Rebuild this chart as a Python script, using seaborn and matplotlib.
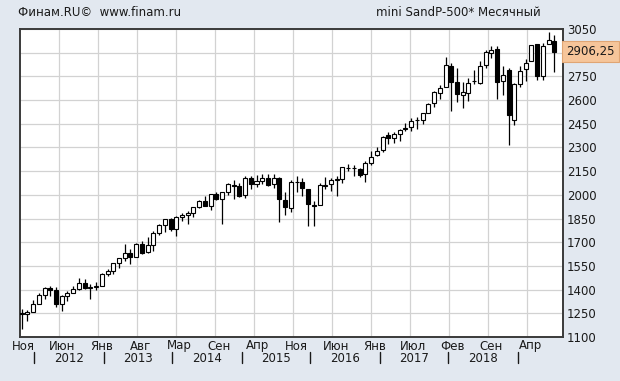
import numpy as np
import pandas as pd
import matplotlib
matplotlib.use("Agg")
import matplotlib.pyplot as plt
import matplotlib.transforms as mtransforms
import seaborn as sns

# ---------------- data (monthly, Nov 2011 .. Aug 2019) ----------------
opens = [1251, 1246,
         1258, 1312, 1366, 1408, 1398, 1310, 1362, 1379, 1407, 1441, 1412, 1416,
         1426, 1498, 1515, 1569, 1597, 1631, 1609, 1690, 1636, 1682, 1758, 1806,
         1845, 1782, 1857, 1873, 1884, 1924, 1962, 1929, 2004, 1972, 2018, 2065,
         2059, 1996, 2105, 2067, 2086, 2108, 2067, 2104, 1970, 1919, 2080, 2082,
         2038, 1937, 1937, 2057, 2067, 2093, 2099, 2173, 2171, 2164, 2129, 2201,
         2251, 2285, 2381, 2363, 2388, 2415, 2431, 2477, 2474, 2521, 2583, 2645,
         2683, 2816, 2715, 2633, 2643, 2718, 2705, 2821, 2896, 2926, 2718, 2790,
         2476, 2702, 2798, 2848, 2952, 2751, 2953, 2976]
highs = [1277, 1269,
         1333, 1378, 1419, 1422, 1415, 1364, 1392, 1426, 1475, 1470, 1434, 1448,
         1504, 1530, 1570, 1597, 1687, 1654, 1698, 1709, 1730, 1771, 1814, 1849,
         1851, 1867, 1884, 1897, 1924, 1968, 1992, 2005, 2019, 2018, 2075, 2093,
         2072, 2120, 2117, 2126, 2135, 2130, 2133, 2113, 2021, 2094, 2117, 2104,
         2038, 1963, 2073, 2111, 2104, 2121, 2178, 2194, 2188, 2169, 2214, 2278,
         2301, 2371, 2401, 2398, 2418, 2454, 2484, 2491, 2519, 2582, 2657, 2694,
         2873, 2835, 2801, 2717, 2742, 2791, 2848, 2916, 2940, 2940, 2815, 2800,
         2708, 2813, 2860, 2949, 2955, 2964, 3029, 3014]
lows = [1152, 1202,
        1258, 1312, 1341, 1357, 1291, 1267, 1325, 1378, 1397, 1403, 1343, 1398,
        1426, 1485, 1501, 1536, 1581, 1560, 1604, 1627, 1633, 1646, 1746, 1767,
        1770, 1737, 1834, 1815, 1859, 1915, 1930, 1905, 1965, 1814, 2001, 1972,
        1988, 1981, 2039, 2048, 2068, 2057, 2045, 1831, 1872, 1894, 2020, 1993,
        1802, 1802, 1937, 2034, 2025, 1992, 2075, 2148, 2120, 2114, 2084, 2188,
        2245, 2271, 2322, 2329, 2344, 2405, 2407, 2417, 2446, 2520, 2557, 2605,
        2682, 2529, 2586, 2553, 2594, 2699, 2699, 2802, 2864, 2604, 2631, 2316,
        2444, 2681, 2722, 2848, 2728, 2729, 2953, 2778]
closes = [1247, 1258,
          1312, 1366, 1408, 1398, 1310, 1362, 1379, 1407, 1441, 1412, 1416, 1426,
          1498, 1515, 1569, 1598, 1631, 1606, 1686, 1633, 1682, 1757, 1806, 1848,
          1783, 1859, 1872, 1884, 1924, 1960, 1931, 2003, 1972, 2018, 2068, 2059,
          1995, 2105, 2068, 2086, 2107, 2063, 2104, 1972, 1920, 2079, 2080, 2044,
          1940, 1932, 2060, 2065, 2097, 2099, 2174, 2171, 2168, 2126, 2199, 2239,
          2279, 2364, 2363, 2384, 2412, 2423, 2470, 2472, 2519, 2575, 2648, 2674,
          2824, 2714, 2641, 2648, 2705, 2718, 2816, 2902, 2914, 2712, 2760, 2507,
          2704, 2784, 2834, 2946, 2752, 2942, 2980, 2906.25]

month_labels = ["Ноя", "Июн", "Янв", "Авг", "Мар", "Сен", "Апр",
                "Ноя", "Июн", "Янв", "Июл", "Фев", "Сен", "Апр"]
month_grid_pos = [-0.3, 6.5, 13.3, 20.1, 27.0, 33.8, 40.6,
                  47.4, 54.2, 61.0, 67.8, 74.6, 81.4, 88.2]
year_labels = ["2012", "2013", "2014", "2015", "2016", "2017", "2018"]
year_sep_pos = [2.2, 14.3, 26.3, 38.4, 50.4, 62.5, 74.5, 86.6]
y_ticks = [1100, 1250, 1400, 1550, 1700, 1850, 2000, 2150, 2300, 2450,
           2600, 2750, 2900, 3050]
last_price = 2906.25
last_label = "2906,25"
title_left = "Финам.RU©  www.finam.ru"
title_right = "mini SandP-500* Месячный"

df = pd.DataFrame({"open": opens, "high": highs, "low": lows, "close": closes})
df["x"] = np.arange(len(df))
df["up"] = df["close"] >= df["open"]

# ---------------- style ----------------
sns.set_style("white")
plt.rcParams["font.family"] = ["DejaVu Sans"]
BG = "#E2E8F0"
TXT = "#1a1a1a"

fig = plt.figure(figsize=(6.2, 3.81), dpi=100, facecolor=BG)
W, H = 620, 381
L, R, T, B = 19.9, 563, 29, 337
ax = fig.add_axes([L / W, 1 - B / H, (R - L) / W, (B - T) / H])
ax.set_facecolor("white")

ax.set_xlim(-0.3, 94.5)
ax.set_ylim(1100, 3050)

# grid
for yv in y_ticks:
    ax.axhline(yv, color="#d2d2d2", lw=0.9, zorder=0)
for xv in month_grid_pos[1:]:
    ax.axvline(xv, color="#d2d2d2", lw=0.9, zorder=0)

# candles
sns.despine(ax=ax, top=False, right=False, left=False, bottom=False)
ax.vlines(df["x"], df["low"], df["high"], color="black", lw=0.9, zorder=2)
body_bottom = np.minimum(df["open"], df["close"])
body_h = np.abs(df["close"] - df["open"]).clip(lower=2)
colors = np.where(df["up"], "white", "black")
ax.bar(df["x"], body_h, bottom=body_bottom, width=0.7, color=colors,
       edgecolor="black", linewidth=0.8, zorder=3)

for s in ax.spines.values():
    s.set_color("#3a3a3a")
    s.set_linewidth(1.4)

# y axis on the right
ax.set_yticks(y_ticks)
ax.yaxis.tick_right()
ax.set_yticklabels([("" if v == 2900 else str(v)) for v in y_ticks])
ax.tick_params(axis="y", length=0, pad=3, labelsize=8.5, labelcolor=TXT)
ax.set_xticks([])

# last price box
ax.plot([1.0, 1.008], [last_price, last_price],
        transform=mtransforms.blended_transform_factory(ax.transAxes, ax.transData),
        color="#3a3a3a", lw=1, clip_on=False)
trans_y = mtransforms.blended_transform_factory(fig.transFigure, ax.transData)
fig.text(566 / W, last_price, last_label, transform=trans_y, fontsize=8.5, color=TXT,
         va="center", ha="left",
         bbox=dict(boxstyle="square,pad=0.35", fc="#F6C59A", ec="#E0A574", lw=0.8))

# x labels
trans_x = mtransforms.blended_transform_factory(ax.transData, fig.transFigure)
for lab, p in zip(month_labels, month_grid_pos):
    ax.text(p + 0.6, 1 - 346 / H, lab, transform=trans_x, ha="center", va="center",
            fontsize=8.5, color=TXT, clip_on=False)
for p in year_sep_pos:
    ax.plot([p, p], [1 - 352 / H, 1 - 363 / H], transform=trans_x,
            color=TXT, lw=1, clip_on=False)
for i, lab in enumerate(year_labels):
    ax.text((year_sep_pos[i] + year_sep_pos[i + 1]) / 2, 1 - 359 / H, lab,
            transform=trans_x, ha="center", va="center", fontsize=8.5,
            color=TXT, clip_on=False)

# titles
fig.text(18 / W, 1 - 13 / H, title_left, ha="left", va="center", fontsize=8.5, color=TXT)
fig.text(541 / W, 1 - 13 / H, title_right, ha="right", va="center", fontsize=8.5, color=TXT)

fig.savefig("out.png", dpi=100, facecolor=BG)
